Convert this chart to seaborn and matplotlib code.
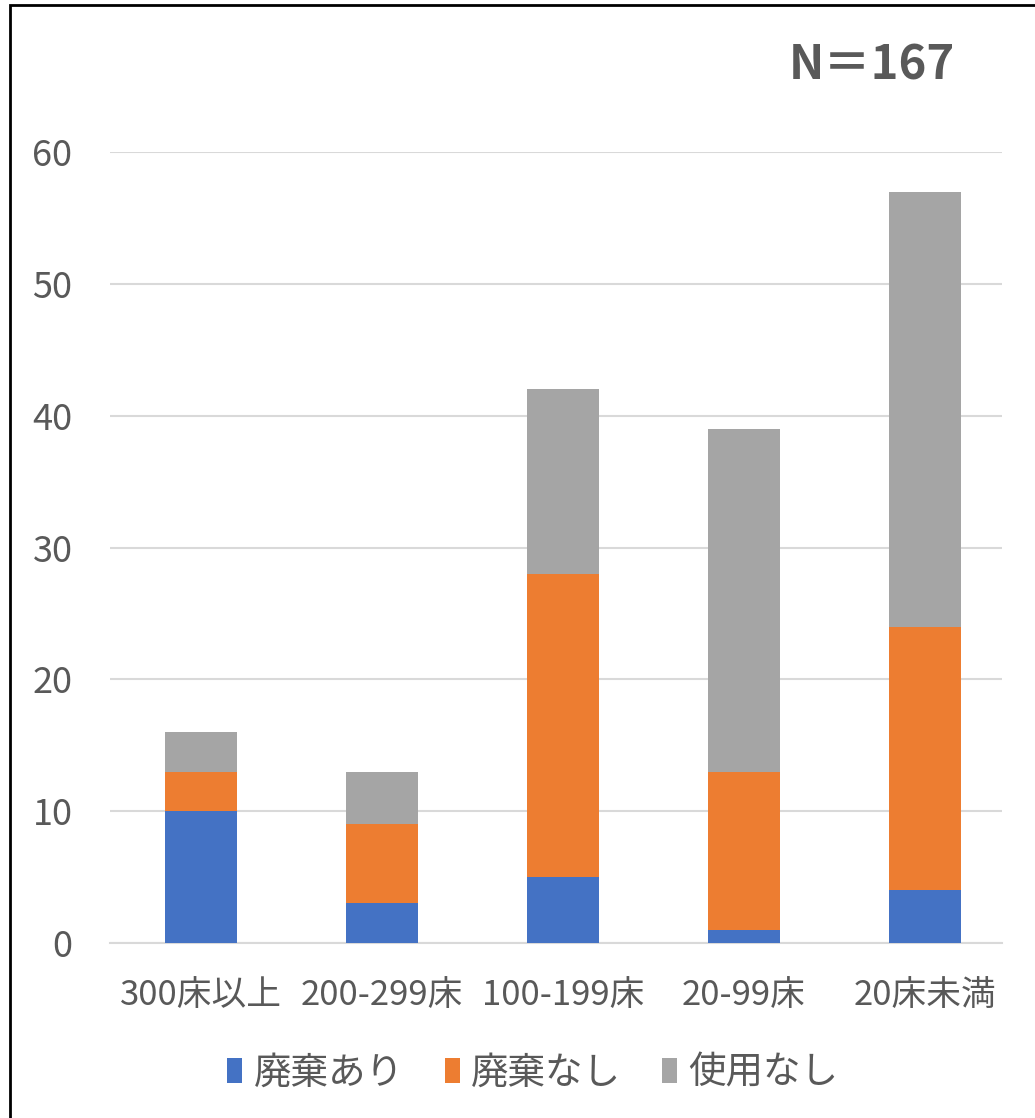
import matplotlib
matplotlib.use("Agg")
import matplotlib.pyplot as plt
from matplotlib.patches import Patch, Rectangle
import seaborn as sns
import pandas as pd

# bed-size categories and counts per disposal status
categories = ["300床以上", "200-299床", "100-199床", "20-99床", "20床未満"]
series_names = ["廃棄あり", "廃棄なし", "使用なし"]
haiki_ari = [10, 3, 5, 1, 4]
haiki_nashi = [3, 6, 23, 12, 20]
shiyou_nashi = [3, 4, 14, 26, 33]
colors = ["#4472C4", "#ED7D31", "#A5A5A5"]
yticks = [0, 10, 20, 30, 40, 50, 60]

sns.set_theme(style="white")
plt.rcParams["font.family"] = ["Noto Sans CJK JP", "DejaVu Sans"]

df = pd.DataFrame({"cat": categories, series_names[0]: haiki_ari,
                   series_names[1]: haiki_nashi, series_names[2]: shiyou_nashi})

fig = plt.figure(figsize=(10.35, 11.18), dpi=100)
ax = fig.add_axes([110 / 1035, 1 - 943 / 1118, 892 / 1035, (943 - 152) / 1118])

bottom = [0] * len(categories)
for name, col in zip(series_names, colors):
    sns.barplot(data=df, x="cat", y=name, color=col, width=0.4, bottom=bottom,
                ax=ax, saturation=1, linewidth=0, zorder=3)
    bottom = [b + v for b, v in zip(bottom, df[name])]

ax.set_ylim(0, 60)
ax.set_xlim(-0.503, 4.425)
ax.set_yticks(yticks)
ax.set_xlabel("")
ax.set_ylabel("")
ax.grid(axis="y", color="#D9D9D9", linewidth=1.5, zorder=0)
for s in ["top", "right", "left"]:
    ax.spines[s].set_visible(False)
ax.spines["bottom"].set_color("#D9D9D9")
ax.spines["bottom"].set_linewidth(1.5)
ax.tick_params(axis="y", length=0, pad=27, labelsize=26, labelcolor="#595959")
ax.tick_params(axis="x", length=0, pad=25, labelsize=25, labelcolor="#595959")

fig.text(872 / 1035, 1 - 66 / 1118, "N＝167", fontsize=34, fontweight="bold",
         color="#595959", ha="center", va="center")

handles = [Patch(facecolor=c, edgecolor="none") for c in colors]
fig.legend(handles, series_names, loc="center", bbox_to_anchor=(533 / 1035, 1 - 1073 / 1118),
           ncol=3, frameon=False, fontsize=27, labelcolor="#595959",
           handlelength=0.4, handleheight=0.65, handletextpad=0.3, columnspacing=1.1)

fig.patches.append(Rectangle((10 / 1035, -0.01), 1.0, 1 - 5 / 1118 + 0.01,
                             transform=fig.transFigure, fill=False,
                             edgecolor="black", linewidth=2))

fig.savefig("out.png", dpi=100)
